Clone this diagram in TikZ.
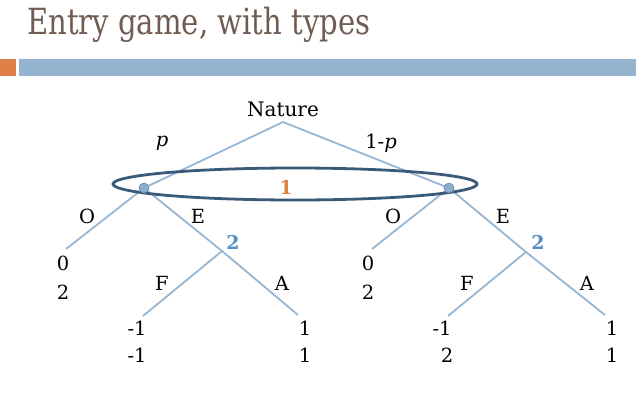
\documentclass[tikz,border=0pt]{standalone}
\usepackage{fontspec}
\setmainfont{DejaVu Serif}
\usetikzlibrary{shapes.geometric}
\definecolor{titlebrown}{RGB}{112,92,82}
\definecolor{barorange}{RGB}{222,128,72}
\definecolor{barblue}{RGB}{148,180,208}
\definecolor{edgeblue}{RGB}{150,182,212}
\definecolor{setblue}{RGB}{58,90,122}
\definecolor{dotfill}{RGB}{140,172,204}
\definecolor{dotline}{RGB}{104,136,168}
\definecolor{playerorange}{RGB}{224,128,72}
\definecolor{playerblue}{RGB}{84,142,194}
\tikzset{
  edge/.style={draw=edgeblue, line width=1.8pt},
  lbl/.style={inner sep=0pt, font=\fontsize{19.5}{22}\selectfont},
  pay/.style={inner sep=0pt, font=\fontsize{19.5}{22}\selectfont},
  dot/.style={circle, fill=dotfill, draw=dotline, line width=0.6pt, minimum size=10pt, inner sep=0pt},
  infoset/.style={ellipse, draw=setblue, line width=2.8pt, minimum width=364pt, minimum height=32pt, inner sep=0pt},
  player/.style={inner sep=0pt, font=\fontsize{19}{22}\selectfont\bfseries},
}
\begin{document}
\begin{tikzpicture}[x=1pt,y=-1pt]
\useasboundingbox (0,0) rectangle (636,394);
% slide title and rule
\node[anchor=base west, inner sep=0pt, text=titlebrown] (title) at (27,34)
  {\resizebox{343pt}{\height}{\fontsize{36}{40}\selectfont Entry game, with types}};
\fill[barorange] (0,59) rectangle (16,76);
\fill[barblue] (19,59) rectangle (636,76);

% tree points
\coordinate (root) at (283,122);
\coordinate (L) at (144,188);
\coordinate (R) at (449,188);
\coordinate (L2) at (222,251);
\coordinate (R2) at (526,252);
\coordinate (LO) at (66,249);
\coordinate (RO) at (372,249);
\coordinate (LF) at (143,316);
\coordinate (LA) at (298,315);
\coordinate (RF) at (448,316);
\coordinate (RA) at (605,315);

% branches
\draw[edge] (root) -- (L);
\draw[edge] (root) -- (R);
\draw[edge] (L) -- (LO);
\draw[edge] (L) -- (L2) -- (LA);
\draw[edge] (L2) -- (LF);
\draw[edge] (R) -- (RO);
\draw[edge] (R) -- (R2) -- (RA);
\draw[edge] (R2) -- (RF);

% information set of player 1
\node[infoset] (set1) at (295,184) {};
\node[dot] (dL) at (L) {};
\node[dot] (dR) at (R) {};

% labels
\node[inner sep=0pt, font=\fontsize{20}{23}\selectfont] (nature) at (283,109) {Nature};
\node[lbl] (pl) at (162,143) {\itshape p};
\node[lbl] (ql) at (381,143) {1-\itshape p};
\node[player, text=playerorange] (p1) at (286,187) {1};
\node[player, text=playerblue] (p2L) at (233,242) {2};
\node[player, text=playerblue] (p2R) at (538,242) {2};

\node[lbl] (oL) at (87,216) {O};
\node[lbl] (eL) at (198,216) {E};
\node[lbl] (fL) at (162,283) {F};
\node[lbl] (aL) at (282,283) {A};
\node[lbl] (oR) at (393,216) {O};
\node[lbl] (eR) at (503,216) {E};
\node[lbl] (fR) at (467,283) {F};
\node[lbl] (aR) at (587,283) {A};

% payoffs
\node[pay] (u1) at (63,263) {0};
\node[pay] (v1) at (63,292) {2};
\node[pay] (u2) at (137,328) {-1};
\node[pay] (v2) at (137,355) {-1};
\node[pay] (u3) at (305,328) {1};
\node[pay] (v3) at (305,355) {1};
\node[pay] (u4) at (368,263) {0};
\node[pay] (v4) at (368,292) {2};
\node[pay] (u5) at (442,328) {-1};
\node[pay] (v5) at (447,355) {2};
\node[pay] (u6) at (612,328) {1};
\node[pay] (v6) at (612,355) {1};
\end{tikzpicture}
\end{document}
